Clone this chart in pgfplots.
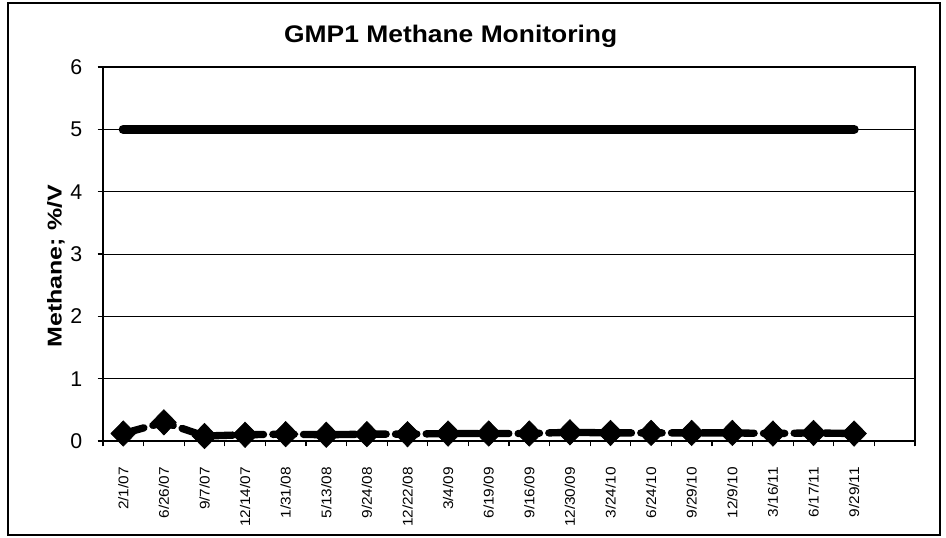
\documentclass[border=0pt]{standalone}
\usepackage{fontspec}
\setmainfont{Liberation Sans}
\newfontfamily\titlefont{Liberation Sans}[FakeStretch=1.1]
\newfontfamily\ylabfont{Liberation Sans}[FakeStretch=1.25]
\newfontfamily\xtickfont{Liberation Sans}[FakeStretch=1.1]
\usepackage{pgfplots}
\pgfplotsset{compat=1.18}
\begin{document}
\begin{tikzpicture}
\useasboundingbox (0,0) rectangle (709.5pt,402.75pt);
\draw[black, line width=1.1pt] (6pt,1.5pt) rectangle (705pt,400.5pt);
\node[font=\titlefont\bfseries\fontsize{18}{20}\selectfont] at (338pt,375.75pt) {GMP1 Methane Monitoring};
\node[rotate=90, font=\ylabfont\bfseries\fontsize{15}{17}\selectfont] at (42pt,203pt) {Methane; \%/V};
\begin{axis}[
  at={(77.25pt,72pt)}, anchor=south west,
  scale only axis, width=609pt, height=280.5pt,
  xmin=-0.5, xmax=19.5, ymin=0, ymax=6,
  ytick={0,1,...,6},
  xtick={0,1,...,18},
  xticklabels={2/1/07,6/26/07,9/7/07,12/14/07,1/31/08,5/13/08,9/24/08,12/22/08,3/4/09,6/19/09,9/16/09,12/30/09,3/24/10,6/24/10,9/29/10,12/9/10,3/16/11,6/17/11,9/29/11},
  minor xtick={-0.5,0.5,...,19.5},
  major x tick style={draw=none},
  minor tick length=4pt,
  major tick length=4pt,
  tick align=outside,
  xtick pos=bottom, ytick pos=left,
  ymajorgrids, grid style={black, line width=0.6pt},
  axis line style={black, line width=1.1pt},
  tick style={black, line width=0.8pt},
  x tick label style={rotate=90, anchor=east, font=\xtickfont\fontsize{10.5}{12}\selectfont, xshift=-12pt},
  y tick label style={font=\fontsize{16}{18}\selectfont, xshift=-8pt},
  /pgf/number format/assume math mode=true,
  clip=false,
]
\addplot[black, line width=7pt, line cap=round, no markers] coordinates {
 (0,5) (1,5) (2,5) (3,5) (4,5) (5,5) (6,5) (7,5) (8,5) (9,5) (10,5) (11,5) (12,5) (13,5) (14,5) (15,5) (16,5) (17,5) (18,5)
};
\addplot[black, line width=5.5pt, line cap=round, dash pattern=on 16pt off 7pt,
  mark=diamond*, mark size=9.5pt, mark options={solid, fill=black, line width=0.5pt, xscale=1.3}] coordinates {
 (0,0.12) (1,0.30) (2,0.08) (3,0.10) (4,0.11) (5,0.10) (6,0.11) (7,0.11) (8,0.12) (9,0.12) (10,0.12) (11,0.14) (12,0.13) (13,0.13) (14,0.13) (15,0.13) (16,0.12) (17,0.13) (18,0.12)
};
\end{axis}
\end{tikzpicture}
\end{document}
